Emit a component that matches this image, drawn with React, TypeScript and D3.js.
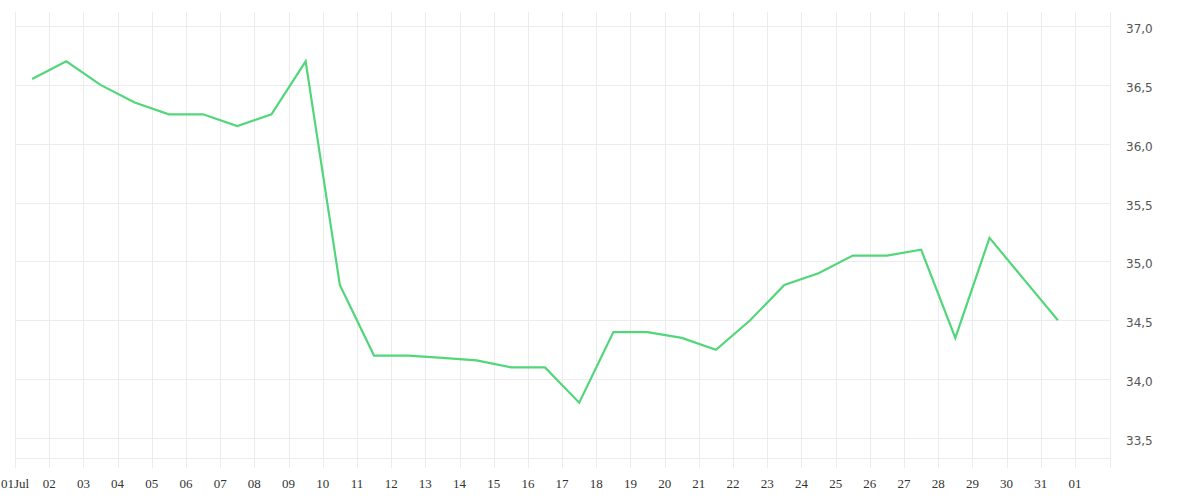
import { useEffect, useRef } from "react";
import * as d3 from "d3";

// one reading per day of July, plotted at noon
const days = d3.range(1, 32);
const values = [
  36.55, 36.7, 36.5, 36.35, 36.25, 36.25, 36.15, 36.25, 36.7, 34.8,
  34.2, 34.2, 34.18, 34.16, 34.1, 34.1, 33.8, 34.4, 34.4, 34.35,
  34.25, 34.5, 34.8, 34.9, 35.05, 35.05, 35.1, 34.35, 35.2, 34.85, 34.5,
];
const yTicks = [33.5, 34, 34.5, 35, 35.5, 36, 36.5, 37];

export default function App() {
  const ref = useRef<SVGSVGElement>(null);

  useEffect(() => {
    const width = 1200;
    const height = 500;
    const left = 15;
    const right = 1110;
    const top = 12;
    const axisY = 458;

    const svg = d3.select(ref.current);
    svg.selectAll("*").remove();

    const x = d3
      .scaleTime()
      .domain([new Date(2024, 6, 1), new Date(2024, 7, 1)])
      .range([left, 1075]);
    const y = d3.scaleLinear().domain([33.5, 37]).range([438, 26]);

    const grid = svg.append("g").attr("stroke", "#ececec").attr("stroke-width", 1);

    // vertical day lines, plus the right edge
    const ticks = x.ticks(d3.timeDay.every(1));
    grid
      .selectAll("line.v")
      .data([...ticks.map((d) => x(d)), right])
      .join("line")
      .attr("x1", (d) => Math.round(d) + 0.5)
      .attr("x2", (d) => Math.round(d) + 0.5)
      .attr("y1", top)
      .attr("y2", axisY + 10);

    grid
      .selectAll("line.h")
      .data([...yTicks.map((d) => y(d)), axisY])
      .join("line")
      .attr("x1", left)
      .attr("x2", right)
      .attr("y1", (d) => Math.round(d) + 0.5)
      .attr("y2", (d) => Math.round(d) + 0.5);

    // x labels
    svg
      .append("g")
      .attr("font-family", "'Liberation Serif', serif")
      .attr("font-size", 13)
      .attr("fill", "#333")
      .attr("text-anchor", "middle")
      .selectAll("text")
      .data(ticks)
      .join("text")
      .attr("x", (d) => x(d))
      .attr("y", 488)
      .text((d) => (d.getDate() === 1 && d.getMonth() === 6 ? "01Jul" : d3.timeFormat("%d")(d)));

    // y labels
    const fmt = (v: number) => v.toFixed(1).replace(".", ",");
    svg
      .append("g")
      .attr("font-family", "'DejaVu Sans', sans-serif")
      .attr("font-size", 12)
      .attr("fill", "#555")
      .selectAll("text")
      .data(yTicks)
      .join("text")
      .attr("x", 1126)
      .attr("y", (d) => y(d) + 7)
      .text(fmt);

    const line = d3
      .line<number>()
      .x((_, i) => x(new Date(2024, 6, days[i], 12)))
      .y((d) => y(d));

    svg
      .append("path")
      .datum(values)
      .attr("fill", "none")
      .attr("stroke", "#52d67a")
      .attr("stroke-width", 2.2)
      .attr("stroke-linejoin", "miter")
      .attr("d", line);

    svg.attr("width", width).attr("height", height);
  }, []);

  return (
    <svg
      ref={ref}
      width={1200}
      height={500}
      style={{ position: "absolute", left: 0, top: 0 }}
    />
  );
}
